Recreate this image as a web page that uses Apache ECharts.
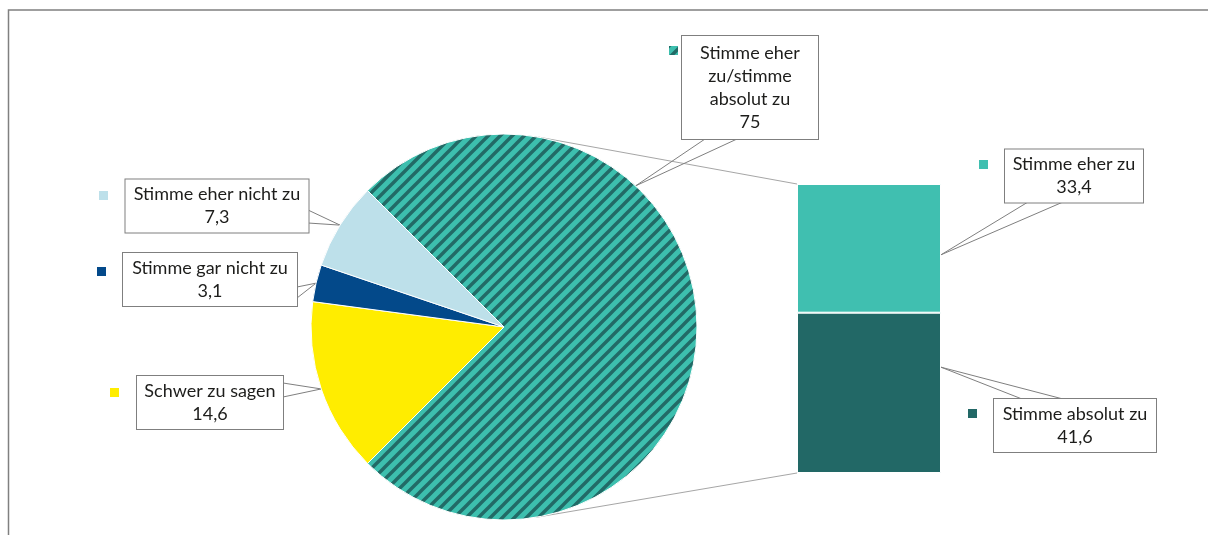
<!DOCTYPE html>
<html>
<head>
<meta charset="utf-8">
<script src="https://cdn.jsdelivr.net/npm/echarts@6/dist/echarts.min.js"></script>
<style>
    html, body { margin: 0; padding: 0; background: #ffffff; }
    #main { width: 1208px; height: 535px; }
</style>
</head>
<body>
<div id="main"></div>
<script>
// data
var pieNames = ['Schwer zu sagen', 'Stimme gar nicht zu', 'Stimme eher nicht zu', 'Stimme eher zu/stimme absolut zu'];
var pieValues = [14.6, 3.1, 7.3, 75];
var barNames = ['Stimme absolut zu', 'Stimme eher zu'];
var barValues = [41.6, 33.4];

// styles
var pieColors = ['#ffed00', '#03498a', '#bde0ea', null]; // last one = stripes
var barColors = ['#226866', '#40bfb0'];
var wrapText = { 'Stimme eher zu/stimme absolut zu': 'Stimme eher\nzu/stimme\nabsolut zu' };

// layout
var pieCenter = [504, 327], pieRadius = 193;
var barGrid = { left: 797, top: 184, width: 144, height: 289 };

// label boxes: centre, content width, vertical padding, wedge base points
var pieBoxes = [
    { x: 210, y: 402.5, w: 146, pad: 3.5, a: [283, 383], b: [283, 397] },
    { x: 210, y: 279.5, w: 174, pad: 3.5, a: [297, 287], b: [297, 298] },
    { x: 217, y: 206, w: 183, pad: 3.5, a: [308, 210], b: [308, 223] },
    { x: 750, y: 87.5, w: 136, pad: 5.5, a: [705, 139], b: [737, 139], tipAngle: 47 }
];
var barBoxes = [
    { x: 1075, y: 425.5, w: 162, pad: 3.5, a: [1022, 399], b: [1063, 399], tip: 0.34 },
    { x: 1074, y: 176, w: 138, pad: 3.5, a: [1028, 202], b: [1063, 202], tip: 0.55 }
];
var keyPos = {
    'Schwer zu sagen': [110, 388],
    'Stimme gar nicht zu': [97, 267],
    'Stimme eher nicht zu': [99, 191],
    'Stimme eher zu/stimme absolut zu': [669, 46],
    'Stimme eher zu': [979, 160],
    'Stimme absolut zu': [968, 409]
};

function stripes() {
    var c = document.createElement('canvas');
    c.width = 12;
    c.height = 12;
    var g = c.getContext('2d');
    g.fillStyle = '#3dbfae';
    g.fillRect(0, 0, 12, 12);
    g.strokeStyle = '#226a66';
    g.lineWidth = 3.4;
    g.beginPath();
    g.moveTo(-1, 13); g.lineTo(13, -1);
    g.moveTo(-2, 2); g.lineTo(2, -2);
    g.moveTo(10, 14); g.lineTo(14, 10);
    g.stroke();
    return { image: c, repeat: 'repeat' };
}

function fmt(v) {
    return String(v).replace('.', ',');
}

var labelBase = {
    show: true,
    fontFamily: 'Lato',
    fontSize: 18,
    lineHeight: 23,
    color: '#1d1d1b',
    backgroundColor: '#ffffff',
    borderColor: '#7f7f7f',
    borderWidth: 1,
    overflow: 'none',
    align: 'center'
};

var pattern = stripes();
var total = barValues.reduce(function (s, v) { return s + v; }, 0);

var option = {
    backgroundColor: '#ffffff',
    animation: false,
    legend: Object.keys(keyPos).map(function (n) {
        return {
            data: [n],
            left: keyPos[n][0],
            top: keyPos[n][1],
            padding: 0,
            itemWidth: 9,
            itemHeight: 9,
            icon: 'rect',
            itemStyle: { borderWidth: 0 },
            selectedMode: false,
            formatter: function () { return ''; }
        };
    }),
    grid: barGrid,
    xAxis: { type: 'category', data: [''], show: false },
    yAxis: { type: 'value', min: 0, max: total, show: false },
    series: [{
        type: 'pie',
        center: pieCenter,
        radius: pieRadius,
        startAngle: 225,
        clockwise: true,
        avoidLabelOverlap: false,
        emphasis: { disabled: true },
        itemStyle: { borderColor: '#ffffff', borderWidth: 1 },
        label: Object.assign({}, labelBase, {
            position: 'outside',
            formatter: function (p) {
                return (wrapText[p.name] || p.name) + '\n' + fmt(p.value);
            }
        }),
        labelLine: { show: true, smooth: false, lineStyle: { color: '#7f7f7f', width: 1 } },
        labelLayout: function (p) {
            var b = pieBoxes[p.dataIndex];
            var tip = p.labelLinePoints ? p.labelLinePoints[0] : [b.a[0], b.a[1]];
            if (b.tipAngle != null) {
                var r = b.tipAngle * Math.PI / 180;
                tip = [pieCenter[0] + pieRadius * Math.cos(r), pieCenter[1] - pieRadius * Math.sin(r)];
            }
            return {
                x: b.x, y: b.y, align: 'center', verticalAlign: 'middle',
                labelLinePoints: [b.a, tip, b.b]
            };
        },
        data: pieNames.map(function (n, i) {
            return {
                name: n,
                value: pieValues[i],
                itemStyle: { color: pieColors[i] || pattern },
                label: { width: pieBoxes[i].w, padding: [pieBoxes[i].pad, 0] }
            };
        })
    }].concat(barNames.map(function (n, i) {
        var b = barBoxes[i];
        return {
            name: n,
            type: 'bar',
            stack: 'all',
            barWidth: '100%',
            emphasis: { disabled: true },
            itemStyle: { color: barColors[i], borderColor: '#ffffff', borderWidth: 1 },
            label: Object.assign({}, labelBase, {
                position: 'right',
                width: b.w,
                padding: [b.pad, 0],
                formatter: function (p) { return p.seriesName + '\n' + fmt(p.value); }
            }),
            labelLayout: { x: b.x, y: b.y, align: 'center', verticalAlign: 'middle' },
            data: [barValues[i]]
        };
    }))
};

var chart = echarts.init(document.getElementById('main'));
chart.setOption(option);

// connector lines: tangents from the bar corners to the pie
function tangent(px, py, side) {
    var dx = px - pieCenter[0], dy = py - pieCenter[1];
    var d = Math.sqrt(dx * dx + dy * dy);
    var a = Math.atan2(dy, dx) + side * Math.acos(pieRadius / d);
    return [pieCenter[0] + pieRadius * Math.cos(a), pieCenter[1] + pieRadius * Math.sin(a)];
}
var topY = chart.convertToPixel({ yAxisIndex: 0 }, total);
var botY = chart.convertToPixel({ yAxisIndex: 0 }, 0);
var t1 = tangent(barGrid.left, topY, -1);
var t2 = tangent(barGrid.left, botY, 1);

var graphics = [{
    type: 'polyline',
    shape: { points: [[8.5, 535], [8.5, 10], [1208, 10]] },
    style: { stroke: '#808080', lineWidth: 1.5, fill: null },
    silent: true
}, {
    type: 'line',
    shape: { x1: t1[0], y1: t1[1], x2: barGrid.left, y2: topY },
    style: { stroke: '#a6a6a6', lineWidth: 1 },
    silent: true
}, {
    type: 'line',
    shape: { x1: t2[0], y1: t2[1], x2: barGrid.left, y2: botY },
    style: { stroke: '#a6a6a6', lineWidth: 1 },
    silent: true
}];

// callout wedges for the bar labels
var cum = 0;
barValues.forEach(function (v, i) {
    var b = barBoxes[i];
    var yTop = chart.convertToPixel({ yAxisIndex: 0 }, cum + v);
    var yBot = chart.convertToPixel({ yAxisIndex: 0 }, cum);
    var tip = [barGrid.left + barGrid.width, yTop + (yBot - yTop) * b.tip];
    graphics.push({
        type: 'polyline',
        shape: { points: [b.a, tip, b.b] },
        style: { stroke: '#7f7f7f', lineWidth: 1, fill: null },
        silent: true
    });
    cum += v;
});

chart.setOption({ graphic: graphics });
</script>
</body>
</html>
